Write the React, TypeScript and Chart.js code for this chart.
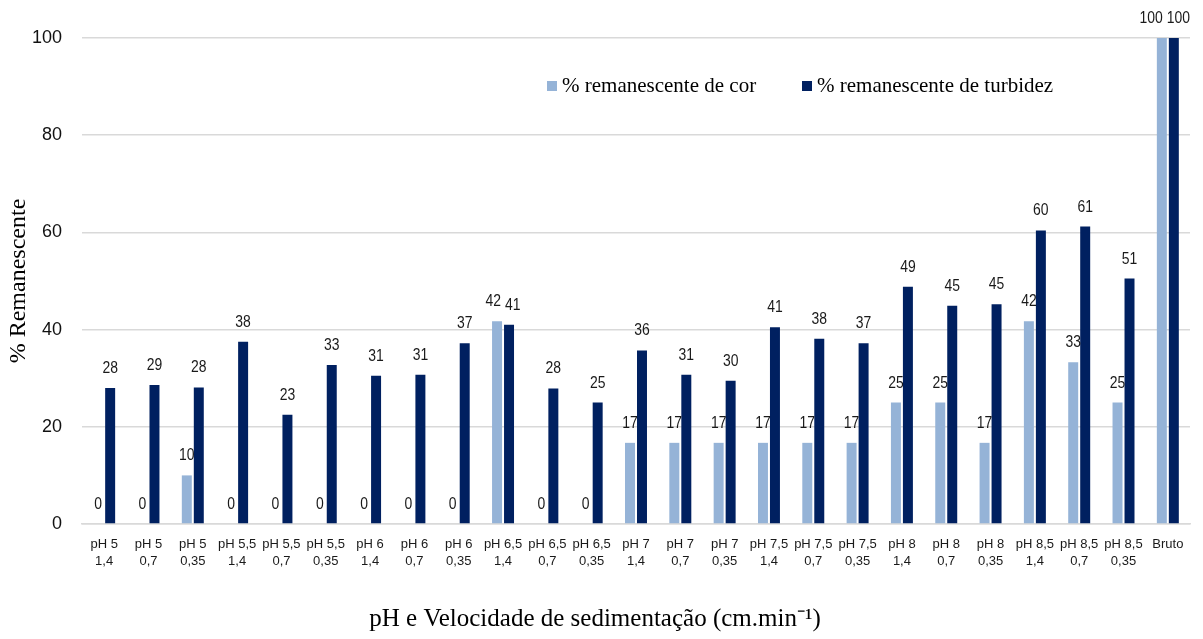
import React, { useEffect, useRef } from "react";
import { Chart, registerables } from "chart.js";

Chart.register(...registerables);

const categories: string[][] = [
  ["pH 5", "1,4"], ["pH 5", "0,7"], ["pH 5", "0,35"],
  ["pH 5,5", "1,4"], ["pH 5,5", "0,7"], ["pH 5,5", "0,35"],
  ["pH 6", "1,4"], ["pH 6", "0,7"], ["pH 6", "0,35"],
  ["pH 6,5", "1,4"], ["pH 6,5", "0,7"], ["pH 6,5", "0,35"],
  ["pH 7", "1,4"], ["pH 7", "0,7"], ["pH 7", "0,35"],
  ["pH 7,5", "1,4"], ["pH 7,5", "0,7"], ["pH 7,5", "0,35"],
  ["pH 8", "1,4"], ["pH 8", "0,7"], ["pH 8", "0,35"],
  ["pH 8,5", "1,4"], ["pH 8,5", "0,7"], ["pH 8,5", "0,35"],
  ["Bruto"],
];

const corValues: number[] = [
  0, 0, 10, 0, 0, 0, 0, 0, 0, 41.7, 0, 0, 16.7, 16.7, 16.7, 16.7, 16.7, 16.7,
  25, 25, 16.7, 41.7, 33.3, 25, 100,
];

const turbidezValues: number[] = [
  28, 28.6, 28.1, 37.5, 22.5, 32.7, 30.5, 30.7, 37.2, 41, 27.9, 25, 35.7, 30.7,
  29.5, 40.5, 38.1, 37.2, 48.8, 44.9, 45.2, 60.4, 61.2, 50.5, 100,
];

const yTicks: number[] = [0, 20, 40, 60, 80, 100];

const seriesNames: string[] = [
  "% remanescente de cor",
  "% remanescente de turbidez",
];

const colors: string[] = ["#95B3D7", "#002060"];

const sans = '"Liberation Sans", Arial, sans-serif';
const serif = '"Liberation Serif", "Times New Roman", serif';

const LABEL_SCALE = 0.82;

const valueLabelPlugin = {
  id: "valueLabels",
  afterDatasetsDraw(chart: any) {
    const ctx = chart.ctx;
    ctx.save();
    ctx.font = `17px ${sans}`;
    const items: any[][] = chart.data.datasets.map((ds: any, di: number) => {
      const meta = chart.getDatasetMeta(di);
      return meta.data.map((bar: any, i: number) => {
        const text = String(Math.round(ds.data[i]));
        const w = ctx.measureText(text).width * LABEL_SCALE;
        return { text, x: bar.x, y: bar.y - 15, w };
      });
    });
    // separate overlapping labels within a category
    const right = chart.chartArea.right;
    for (let i = 0; i < items[0].length; i++) {
      const a = items[0][i];
      const b = items[1][i];
      if (Math.abs(a.y - b.y) < 14) {
        const need = (a.w + b.w) / 2 + 4;
        const sep = b.x - a.x;
        if (sep < need) {
          const d = (need - sep) / 2;
          a.x -= d;
          b.x += d;
          const over = b.x + b.w / 2 - right;
          if (over > 0) {
            a.x -= over;
            b.x -= over;
          }
        }
      }
    }
    ctx.fillStyle = "#1a1a1a";
    ctx.textAlign = "center";
    ctx.textBaseline = "alphabetic";
    items.forEach((list) =>
      list.forEach((it) => {
        ctx.save();
        ctx.translate(it.x, it.y);
        ctx.scale(LABEL_SCALE, 1);
        ctx.fillText(it.text, 0, 0);
        ctx.restore();
      })
    );
    ctx.restore();
  },
};

const legendPlugin = {
  id: "customLegend",
  afterDraw(chart: any) {
    const ctx = chart.ctx;
    ctx.save();
    ctx.font = `21px ${serif}`;
    ctx.textBaseline = "middle";
    ctx.textAlign = "left";
    const y = 86;
    const xs = [547, 802];
    seriesNames.forEach((name, i) => {
      ctx.fillStyle = colors[i];
      ctx.fillRect(xs[i], y - 5, 10, 10);
      ctx.fillStyle = "#000";
      ctx.fillText(name, xs[i] + 15, y);
    });
    ctx.restore();
  },
};

export default function App() {
  const canvasRef = useRef<HTMLCanvasElement | null>(null);

  useEffect(() => {
    if (!canvasRef.current) return;
    const chart = new Chart(canvasRef.current, {
      type: "bar",
      data: {
        labels: categories,
        datasets: [
          {
            label: seriesNames[0],
            data: corValues,
            backgroundColor: colors[0],
            categoryPercentage: 0.541,
            barPercentage: 0.833,
          },
          {
            label: seriesNames[1],
            data: turbidezValues,
            backgroundColor: colors[1],
            categoryPercentage: 0.541,
            barPercentage: 0.833,
          },
        ],
      },
      options: {
        animation: false,
        responsive: true,
        maintainAspectRatio: false,
        layout: { padding: { top: 38, right: 13, left: 0, bottom: 0 } },
        plugins: {
          legend: { display: false },
          tooltip: { enabled: false },
          title: {
            display: true,
            position: "bottom",
            text: "pH e Velocidade de sedimentação (cm.min\u207B\u00B9)",
            color: "#000",
            font: { family: serif, size: 25, weight: "normal" },
            padding: { top: 10, bottom: 5 },
          },
        },
        scales: {
          x: {
            grid: { display: false, drawTicks: false },
            border: { display: true, color: "#d9d9d9", width: 1.5 },
            ticks: {
              color: "#1a1a1a",
              font: { family: sans, size: 13, lineHeight: 1.38 },
              padding: 11,
              maxRotation: 0,
              autoSkip: false,
            },
            afterFit(scale: any) {
              scale.height = 70;
            },
          },
          y: {
            min: 0,
            max: 100,
            afterBuildTicks(scale: any) {
              scale.ticks = yTicks.map((v) => ({ value: v }));
            },
            grid: { color: "#d9d9d9", lineWidth: 1.5, drawTicks: false },
            border: { display: false },
            ticks: {
              color: "#111",
              font: { family: sans, size: 18 },
              padding: 20,
            },
            title: {
              display: true,
              text: "% Remanescente",
              color: "#000",
              font: { family: serif, size: 24, weight: "normal" },
              padding: { top: 4, bottom: 0 },
            },
            afterFit(scale: any) {
              scale.width = 82;
            },
          },
        },
      },
      plugins: [valueLabelPlugin, legendPlugin],
    });
    return () => chart.destroy();
  }, []);

  return (
    <div style={{ position: "absolute", left: 0, top: 0, width: 1203, height: 639, background: "#fff" }}>
      <canvas ref={canvasRef} />
    </div>
  );
}
